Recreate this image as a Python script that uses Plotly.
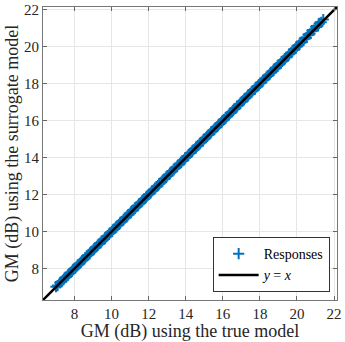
import plotly.graph_objects as go

# surrogate vs true model responses (GM in dB)
true_gm = [7.00, 7.09, 7.21, 7.30, 7.41, 7.50, 7.61, 7.70, 7.80, 7.91,
           8.00, 8.11, 8.20, 8.30, 8.41, 8.50, 8.59, 8.70, 8.81, 8.90,
           9.01, 9.10, 9.20, 9.31, 9.40, 9.50, 9.61, 9.70, 9.79, 9.90,
           10.01, 10.10, 10.20, 10.31, 10.40, 10.49, 10.60, 10.71, 10.80, 10.90,
           11.01, 11.10, 11.19, 11.30, 11.41, 11.50, 11.60, 11.71, 11.80, 11.89,
           12.00, 12.11, 12.20, 12.30, 12.41, 12.50, 12.59, 12.70, 12.81, 12.90,
           13.00, 13.11, 13.20, 13.29, 13.40, 13.51, 13.60, 13.70, 13.81, 13.90,
           13.99, 14.10, 14.21, 14.30, 14.40, 14.51, 14.60, 14.69, 14.80, 14.91,
           15.00, 15.10, 15.21, 15.30, 15.39, 15.50, 15.61, 15.70, 15.80, 15.91,
           16.00, 16.09, 16.20, 16.31, 16.40, 16.50, 16.61, 16.70, 16.79, 16.90,
           17.01, 17.10, 17.20, 17.31, 17.40, 17.49, 17.60, 17.71, 17.80, 17.90,
           18.01, 18.10, 18.19, 18.30, 18.41, 18.50, 18.60, 18.71, 18.80, 18.89,
           19.00, 19.11, 19.20, 19.30, 19.41, 19.50, 19.59, 19.70, 19.81, 19.90,
           20.00, 20.11, 20.20, 20.29, 20.40, 20.51, 20.60, 20.70, 20.81, 20.90,
           21.01, 21.12, 21.20, 21.31, 21.42]
surrogate_gm = [7.02, 7.08, 7.23, 7.29, 7.40, 7.52, 7.60, 7.72, 7.79, 7.93,
                8.01, 8.10, 8.22, 8.29, 8.43, 8.49, 8.60, 8.72, 8.80, 8.92,
                9.00, 9.12, 9.19, 9.33, 9.39, 9.52, 9.60, 9.72, 9.78, 9.92,
                10.00, 10.12, 10.19, 10.33, 10.39, 10.51, 10.59, 10.73, 10.79, 10.92,
                11.00, 11.12, 11.18, 11.32, 11.40, 11.52, 11.59, 11.73, 11.79, 11.91,
                12.02, 12.10, 12.22, 12.29, 12.43, 12.49, 12.61, 12.69, 12.83, 12.89,
                13.02, 13.10, 13.22, 13.28, 13.42, 13.50, 13.62, 13.69, 13.83, 13.89,
                14.01, 14.09, 14.23, 14.29, 14.42, 14.50, 14.62, 14.68, 14.82, 14.90,
                15.02, 15.09, 15.23, 15.29, 15.41, 15.49, 15.63, 15.69, 15.82, 15.90,
                16.02, 16.08, 16.22, 16.30, 16.42, 16.49, 16.63, 16.69, 16.81, 16.89,
                17.03, 17.09, 17.22, 17.30, 17.42, 17.48, 17.62, 17.70, 17.82, 17.89,
                18.03, 18.09, 18.21, 18.29, 18.43, 18.49, 18.62, 18.70, 18.82, 18.88,
                19.03, 19.10, 19.22, 19.29, 19.44, 19.49, 19.62, 19.69, 19.84, 19.90,
                20.04, 20.10, 20.24, 20.28, 20.45, 20.50, 20.66, 20.71, 20.88, 20.91,
                21.09, 21.13, 21.27, 21.33, 21.48]
line_ends = [6.3, 22.16]
tick_vals = [8, 10, 12, 14, 16, 18, 20, 22]

FONT = "Liberation Serif, DejaVu Serif, serif"

fig = go.Figure()

fig.add_trace(go.Scatter(
    x=true_gm, y=surrogate_gm,
    mode="markers",
    name="Responses",
    marker=dict(symbol="cross-thin", size=8, line=dict(color="#0072BD", width=2)),
))

fig.add_trace(go.Scatter(
    x=line_ends, y=line_ends,
    mode="lines",
    name="<i>y</i> = <i>x</i>",
    line=dict(color="black", width=2.5),
))

axis_style = dict(
    range=line_ends,
    tickvals=tick_vals,
    ticks="inside",
    ticklen=4,
    tickcolor="#666",
    showline=True,
    linecolor="#777",
    linewidth=1,
    mirror="ticks",
    showgrid=True,
    gridcolor="#e6e6e6",
    gridwidth=1,
    zeroline=False,
    automargin=False,
    tickfont=dict(family=FONT, size=15, color="#262626"),
)

fig.update_layout(
    width=345, height=342,
    margin=dict(l=43, r=8, t=7, b=42),
    paper_bgcolor="white",
    plot_bgcolor="white",
    font=dict(family=FONT, size=15, color="#262626"),
    xaxis=dict(axis_style, title=dict(text="GM (dB) using the true model", standoff=0)),
    yaxis=dict(axis_style, title=dict(text="GM (dB) using the surrogate model", standoff=0)),
    legend=dict(
        x=0.975, y=0.027, xanchor="right", yanchor="bottom",
        bgcolor="white", bordercolor="#333", borderwidth=1,
        font=dict(family=FONT, size=14, color="black"),
        tracegroupgap=0,
        itemwidth=40,
    ),
    showlegend=True,
)

# drop the default page margin so the figure sits at the window's corner
fig.write_html(
    "out.html",
    config={"displayModeBar": False},
    post_script="document.body.style.margin='0';",
)
